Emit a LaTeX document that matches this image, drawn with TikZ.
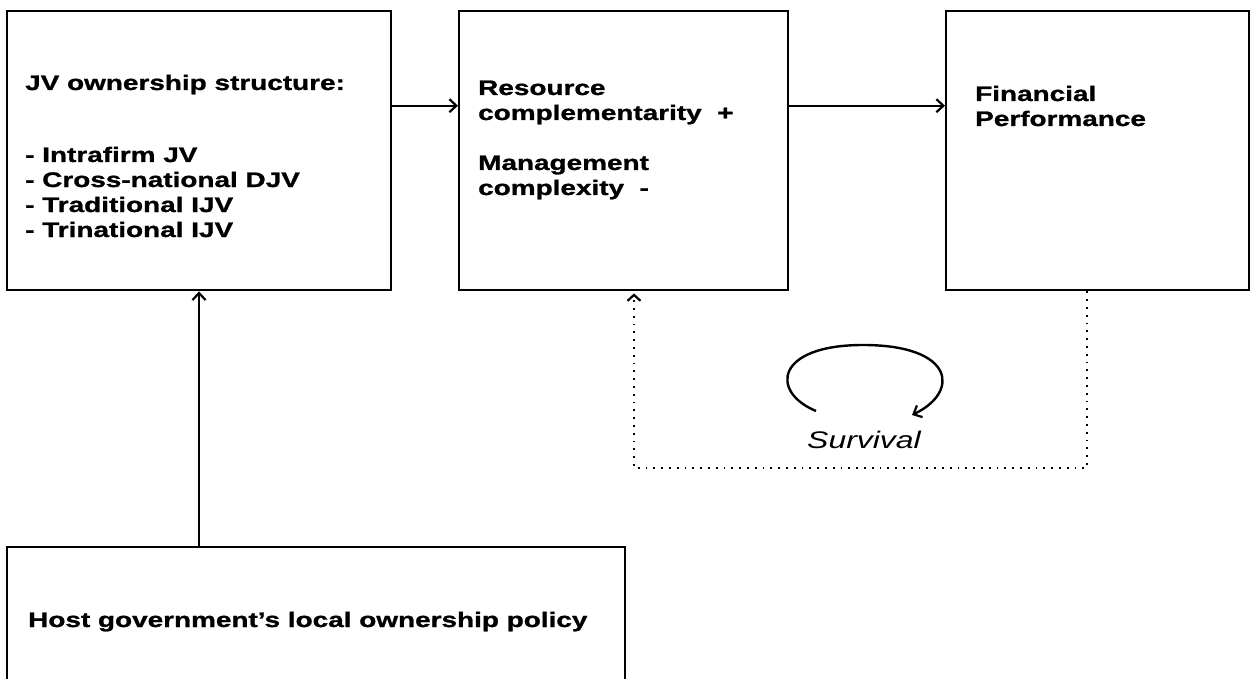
\documentclass[tikz,border=0pt]{standalone}
\usepackage{fontspec}
\setmainfont{Liberation Sans}[FakeStretch=1.33, BoldFeatures={FakeBold=1.2}]
\usetikzlibrary{arrows.meta}
\tikzset{
  x=1pt, y=-1pt,
  box/.style={draw, line width=2.4pt, inner sep=0pt, anchor=north west},
  label/.style={anchor=base west, inner sep=0pt,
    font=\fontsize{21}{25}\selectfont\bfseries},
  arr/.style={line width=2.2pt, -{Straight Barb[length=7pt,width=13pt,line width=2.2pt]}},
  dots/.style={line width=1.8pt, dash pattern=on 1.8pt off 6pt,
    -{Straight Barb[length=6pt,width=13pt,line width=2.2pt]}},
}
\begin{document}
\begin{tikzpicture}
\useasboundingbox (0,0) rectangle (1252,679);
\clip (0,0) rectangle (1252,679);

% boxes
\node[box, minimum width=384pt, minimum height=279pt] (own) at (6,10) {};
\node[box, minimum width=329pt, minimum height=279pt] (res) at (458,10) {};
\node[box, minimum width=303pt, minimum height=279pt] (fin) at (945,10) {};
\node[box, minimum width=618pt, minimum height=160pt] (host) at (6,546) {};

% ownership structure
\node[label] (own0) at (25,90)  {JV ownership structure:};
\node[label] (own1) at (25,162) {- Intrafirm JV};
\node[label] (own2) at (25,187) {- Cross-national DJV};
\node[label] (own3) at (25,212) {- Traditional IJV};
\node[label] (own4) at (25,237) {- Trinational IJV};

% resources and complexity
\node[label] (res0) at (478,95)  {Resource};
\node[label] (res1) at (478,120) {complementarity\ \ +};
\node[label] (res2) at (478,170) {Management};
\node[label] (res3) at (478,195) {complexity\ \ -};

% performance
\node[label] (fin0) at (975,101) {Financial};
\node[label] (fin1) at (975,126) {Performance};

% policy
\node[label] (host0) at (28,627) {Host government's local ownership policy};

% solid connectors
\draw[arr] ([yshift=45pt]own.east) -- ([yshift=45pt]res.west);
\draw[arr] ([yshift=45pt]res.east) -- ([yshift=45pt]fin.west);
\draw[arr] (host.north -| 199,0) -- (own.south -| 199,0);

% dotted feedback from performance back to the middle box
\coordinate (fb1) at (1087,468);
\coordinate (fb2) at (634,468);
\draw[dots] (fin.south -| fb1) -- (fb1) -- (fb2) -- ([yshift=-2pt]res.south -| fb2);

% survival loop
\coordinate (s0) at (816,411);
\coordinate (s1) at (912,415);
\draw[line width=2.4pt, -{Straight Barb[length=7pt,width=13pt,line width=2.2pt]}]
  (s0) .. controls (770,392) and (775,345) .. (863,345)
       .. controls (955,345) and (960,392) .. (s1);
\node[anchor=base west, inner sep=0pt,
  font=\fontsize{24}{28}\selectfont\itshape] (surv) at (807,448) {Survival};
\end{tikzpicture}
\end{document}
